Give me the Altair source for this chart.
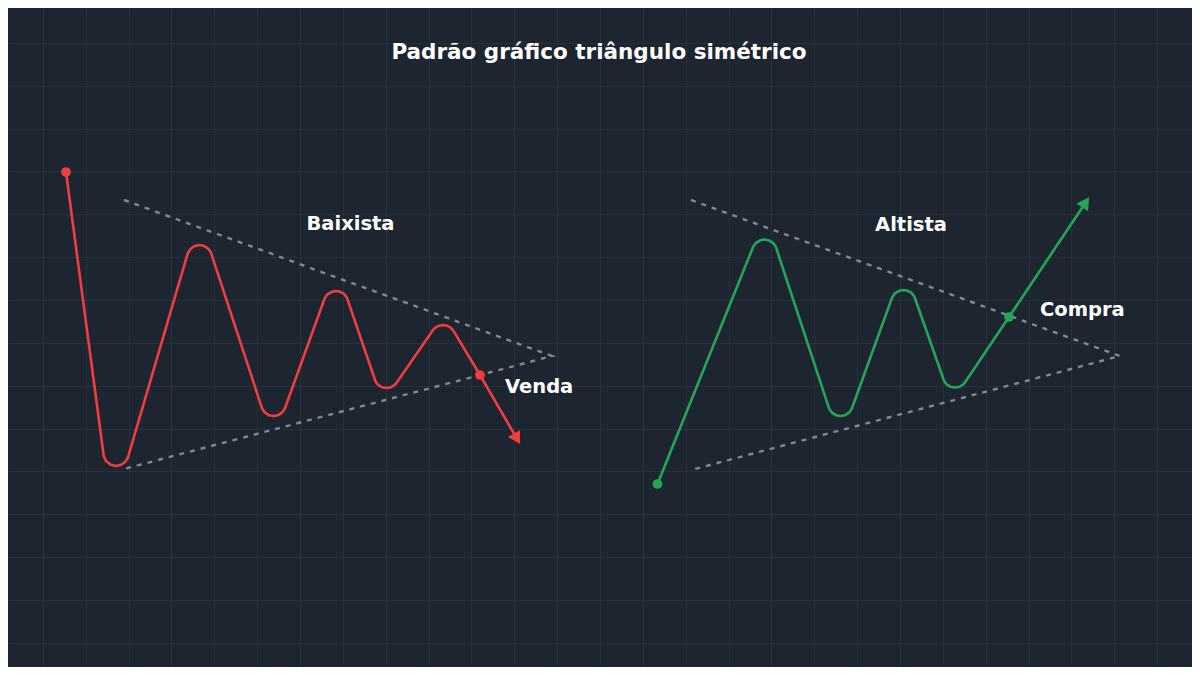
import altair as alt
import pandas as pd

# ---- data (in picture pixel units) ----
# red (bearish) path: start, rounded troughs/peaks (shoulder..apex..shoulder), breakout dot, arrow tip
red_x = [66,
         103.7, 105.8, 110.7, 116, 121.3, 124.8, 127.8,
         187.8, 190.7, 194.2, 199.5, 203.8, 208.3, 210.8,
         262.2, 264.7, 269.2, 273.5, 277.8, 282.3, 284.8,
         324.7, 327.2, 331.7, 336, 340.3, 344, 346.8,
         375.7, 378.5, 382.2, 386.5, 390.8, 393.7, 396.1,
         433.4, 435.8, 438.7, 443, 447.3, 450.2, 453.2,
         480, 516]
red_y = [172,
         455.7, 460.7, 464.8, 466, 464.8, 462.3, 457.8,
         253.2, 248.7, 246.2, 245, 245.8, 248.7, 252.2,
         408.8, 412.3, 415.3, 416, 415.3, 412.3, 408.8,
         298.2, 294.7, 291.8, 291, 291.8, 293.9, 297.3,
         381.8, 385.1, 387.3, 388, 387.3, 385.7, 383.5,
         329.5, 327.3, 325.8, 325, 325.8, 327.3, 330.3,
         375, 437]

# green (bullish) path
green_x = [657.5,
           753.2, 755.7, 760.2, 764.5, 768.8, 773.3, 775.8,
           829.2, 831.7, 836.2, 840.5, 844.8, 849.3, 851.8,
           892.2, 894.7, 899.2, 903.5, 907.8, 911.5, 914.3,
           944.2, 947, 950.7, 955, 959.3, 962.2, 964.6,
           1009, 1084]
green_y = [484,
           246.7, 243.2, 240.3, 239.5, 240.3, 243.2, 246.7,
           408.8, 412.3, 415.3, 416, 415.3, 412.3, 408.8,
           297.2, 293.7, 290.8, 290, 290.8, 292.9, 296.3,
           381.3, 384.6, 386.8, 387.5, 386.8, 385.2, 383,
           317, 205]

tri_left_x = [124, 552, 124]
tri_left_y = [200, 356, 469]
tri_right_x = [691, 1120, 691]
tri_right_y = [200, 356, 470]

red_dot_x = [66, 480]
red_dot_y = [172, 375]
green_dot_x = [657.5, 1009]
green_dot_y = [484, 317]

red_head_x = [516]
red_head_y = [437]
green_head_x = [1084.5]
green_head_y = [204]

center_labels = ["Baixista", "Altista"]
center_label_x = [350.5, 911]
center_label_y = [230, 231]
side_labels = ["Venda", "Compra"]
side_label_x = [505, 1040]
side_label_y = [393, 316]

title_text = ["Padrão gráfico triângulo simétrico"]
title_x = [599]
title_y = [59]

# ---- styling ----
BG = "#1d2530"
GRID = "#27313c"
RED = "#f03e3e"
GREEN = "#25a656"
DASH = "#7f8995"
FONT = "DejaVu Sans"

W, H = 1184, 659
step = 1200 / 28
XS = alt.Scale(domain=[8, 8 + W], nice=False, zero=False)
YS = alt.Scale(domain=[8, 8 + H], nice=False, zero=False, reverse=True)
AX = alt.Axis(values=[k * step for k in range(1, 28)], grid=True, labels=False,
              ticks=False, domain=False, title=None, gridColor=GRID, gridWidth=1)
AY = alt.Axis(values=[k * step for k in range(1, 16)], grid=True, labels=False,
              ticks=False, domain=False, title=None, gridColor=GRID, gridWidth=1)


def enc(**kw):
    return dict(x=alt.X("x:Q", scale=XS, axis=AX), y=alt.Y("y:Q", scale=YS, axis=AY), **kw)


red_df = pd.DataFrame({"x": red_x, "y": red_y, "i": range(len(red_x))})
green_df = pd.DataFrame({"x": green_x, "y": green_y, "i": range(len(green_x))})
tri_df = pd.DataFrame({
    "x": tri_left_x + tri_right_x,
    "y": tri_left_y + tri_right_y,
    "g": ["L"] * 3 + ["R"] * 3,
    "i": list(range(3)) * 2,
})

tri = alt.Chart(tri_df).mark_line(color=DASH, strokeWidth=2.4, strokeDash=[5, 6]).encode(
    **enc(detail="g:N", order="i:Q"))

red_line = alt.Chart(red_df).mark_line(
    color=RED, strokeWidth=2.6, interpolate="linear", strokeCap="round", strokeJoin="round"
).encode(**enc(order="i:Q"))
green_line = alt.Chart(green_df).mark_line(
    color=GREEN, strokeWidth=2.6, interpolate="linear", strokeCap="round", strokeJoin="round"
).encode(**enc(order="i:Q"))

red_dots = alt.Chart(pd.DataFrame({"x": red_dot_x, "y": red_dot_y})).mark_point(
    filled=True, color=RED, size=95, opacity=1).encode(**enc())
green_dots = alt.Chart(pd.DataFrame({"x": green_dot_x, "y": green_dot_y})).mark_point(
    filled=True, color=GREEN, size=95, opacity=1).encode(**enc())

red_head = alt.Chart(pd.DataFrame({"x": red_head_x, "y": red_head_y})).mark_point(
    shape="triangle", filled=True, color=RED, size=200, opacity=1, angle=150).encode(**enc())
green_head = alt.Chart(pd.DataFrame({"x": green_head_x, "y": green_head_y})).mark_point(
    shape="triangle", filled=True, color=GREEN, size=200, opacity=1, angle=34).encode(**enc())

c_labels = alt.Chart(pd.DataFrame({"x": center_label_x, "y": center_label_y, "t": center_labels})).mark_text(
    font=FONT, fontSize=19.5, fontWeight="bold", color="white", align="center", baseline="alphabetic"
).encode(**enc(text="t:N"))
s_labels = alt.Chart(pd.DataFrame({"x": side_label_x, "y": side_label_y, "t": side_labels})).mark_text(
    font=FONT, fontSize=19.5, fontWeight="bold", color="white", align="left", baseline="alphabetic"
).encode(**enc(text="t:N"))
title = alt.Chart(pd.DataFrame({"x": title_x, "y": title_y, "t": title_text})).mark_text(
    font=FONT, fontSize=21.5, fontWeight="bold", color="white", align="center", baseline="alphabetic"
).encode(**enc(text="t:N"))

chart = alt.layer(
    tri, red_line, green_line, red_dots, green_dots, red_head, green_head,
    c_labels, s_labels, title
).properties(
    width=W, height=H,
    autosize=alt.AutoSizeParams(type="fit", contains="padding"),
    padding=0,
).configure(background=BG).configure_view(stroke=None)

chart.save("out.html", embed_options={"renderer": "svg", "actions": False})
